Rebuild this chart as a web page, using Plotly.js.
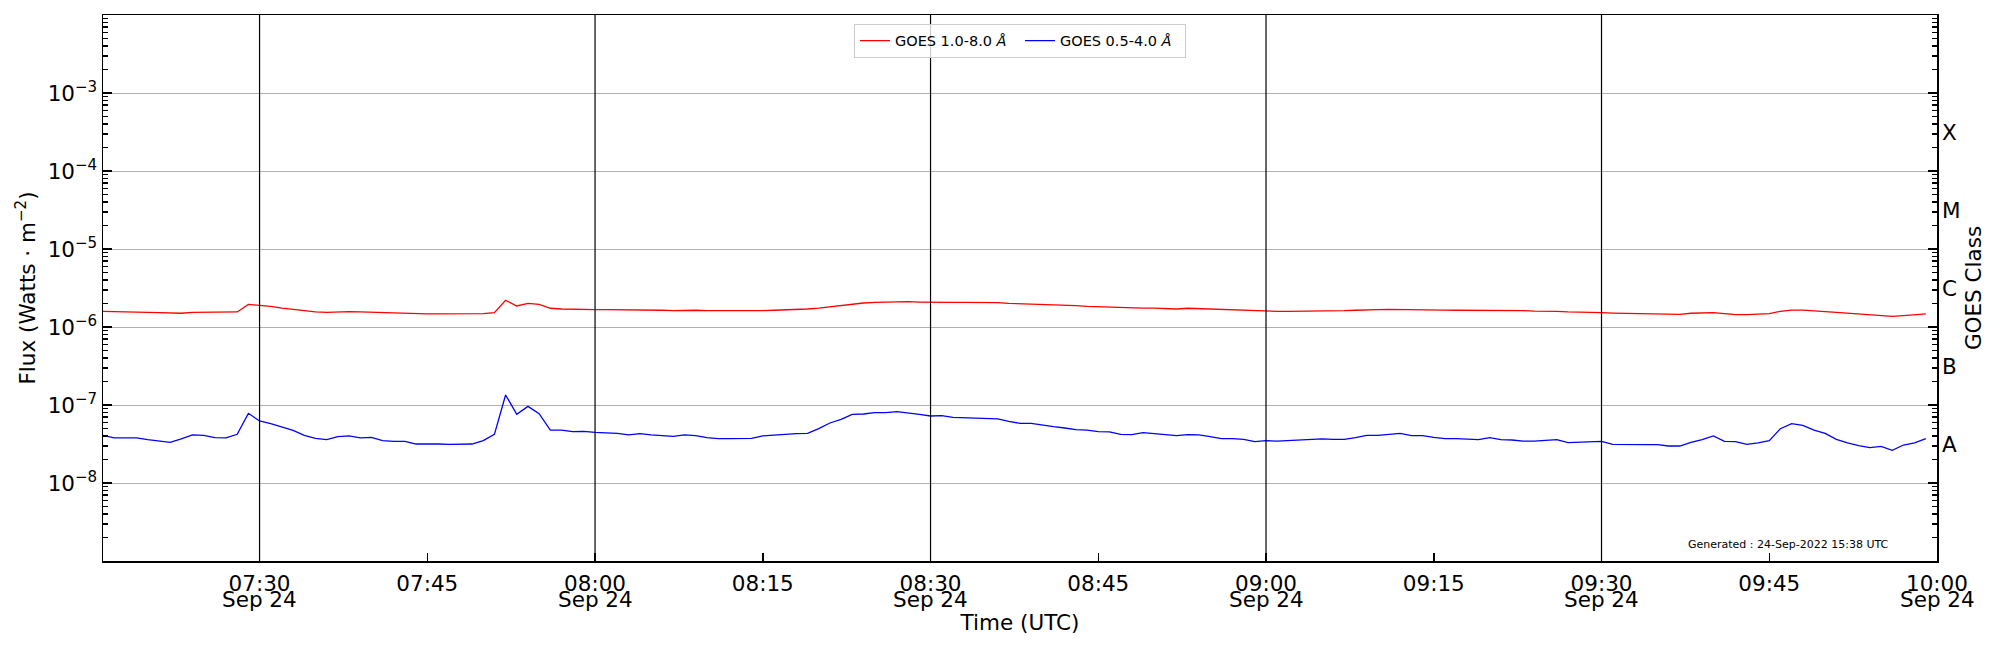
<!DOCTYPE html>
<html>
<head>
<meta charset="utf-8">
<script src="https://cdn.plot.ly/plotly-3.0.1.min.js"></script>
<style>html,body{margin:0;padding:0;background:#fff;}</style>
</head>
<body>
<div id="chart" style="width:2000px;height:650px;"></div>
<script>
// ---- data (1-minute GOES XRS averages, 2022-09-24) ----
const day = "2022-09-24";
const times = [
"07:16","07:17","07:18","07:19","07:20","07:21","07:22","07:23","07:24","07:25","07:26","07:27","07:28","07:29",
"07:30","07:31","07:32","07:33","07:34","07:35","07:36","07:37","07:38","07:39","07:40","07:41","07:42","07:43","07:44",
"07:45","07:46","07:47","07:48","07:49","07:50","07:51","07:52","07:53","07:54","07:55","07:56","07:57","07:58","07:59",
"08:00","08:01","08:02","08:03","08:04","08:05","08:06","08:07","08:08","08:09","08:10","08:11","08:12","08:13","08:14",
"08:15","08:16","08:17","08:18","08:19","08:20","08:21","08:22","08:23","08:24","08:25","08:26","08:27","08:28","08:29",
"08:30","08:31","08:32","08:33","08:34","08:35","08:36","08:37","08:38","08:39","08:40","08:41","08:42","08:43","08:44",
"08:45","08:46","08:47","08:48","08:49","08:50","08:51","08:52","08:53","08:54","08:55","08:56","08:57","08:58","08:59",
"09:00","09:01","09:02","09:03","09:04","09:05","09:06","09:07","09:08","09:09","09:10","09:11","09:12","09:13","09:14",
"09:15","09:16","09:17","09:18","09:19","09:20","09:21","09:22","09:23","09:24","09:25","09:26","09:27","09:28","09:29",
"09:30","09:31","09:32","09:33","09:34","09:35","09:36","09:37","09:38","09:39","09:40","09:41","09:42","09:43","09:44",
"09:45","09:46","09:47","09:48","09:49","09:50","09:51","09:52","09:53","09:54","09:55","09:56","09:57","09:58","09:59"
];
// GOES 1.0-8.0 Å flux, in units of 1e-6 W m^-2
const long18 = [
1.59,1.57,1.56,1.56,1.54,1.53,1.50,1.50,1.54,1.54,1.54,1.54,1.56,1.95,
1.91,1.84,1.75,1.68,1.60,1.56,1.54,1.56,1.57,1.56,1.54,1.53,1.51,1.50,1.48,
1.47,1.47,1.47,1.47,1.47,1.48,1.53,2.20,1.86,2.01,1.95,1.74,1.70,1.68,1.67,
1.67,1.67,1.67,1.67,1.67,1.65,1.64,1.62,1.64,1.64,1.62,1.62,1.60,1.60,1.62,
1.62,1.64,1.65,1.67,1.70,1.75,1.82,1.90,1.99,2.03,2.07,2.09,2.11,2.11,2.09,
2.07,2.09,2.07,2.07,2.07,2.07,2.05,2.01,1.99,1.99,1.97,1.93,1.90,1.88,1.84,
1.82,1.81,1.77,1.74,1.75,1.75,1.74,1.70,1.74,1.72,1.68,1.65,1.64,1.62,1.60,
1.59,1.59,1.59,1.59,1.60,1.60,1.60,1.62,1.64,1.67,1.67,1.68,1.68,1.68,1.67,
1.67,1.65,1.64,1.64,1.64,1.64,1.64,1.62,1.62,1.60,1.60,1.59,1.56,1.56,1.54,
1.53,1.51,1.50,1.48,1.48,1.47,1.45,1.45,1.50,1.51,1.53,1.48,1.44,1.44,1.45,
1.48,1.59,1.65,1.65,1.60,1.57,1.54,1.51,1.47,1.43,1.40,1.37,1.40,1.43,1.47
];
// GOES 0.5-4.0 Å flux, in units of 1e-8 W m^-2
const short054 = [
4.09,3.78,3.78,3.78,3.59,3.45,3.32,3.67,4.13,4.09,3.81,3.78,4.21,7.82,
6.24,5.76,5.22,4.73,4.09,3.74,3.59,3.93,4.01,3.78,3.85,3.49,3.42,3.42,3.16,
3.19,3.16,3.13,3.16,3.16,3.49,4.21,13.44,7.60,9.61,7.74,4.77,4.77,4.55,4.60,
4.46,4.42,4.33,4.13,4.29,4.13,4.09,3.97,4.13,4.05,3.81,3.70,3.70,3.74,3.74,
4.01,4.13,4.25,4.29,4.33,4.97,5.88,6.55,7.60,7.67,7.97,7.97,8.21,7.97,7.60,
7.23,7.30,6.95,6.88,6.81,6.75,6.62,6.17,5.82,5.82,5.49,5.28,5.07,4.82,4.77,
4.55,4.51,4.21,4.17,4.42,4.29,4.17,4.05,4.17,4.13,3.93,3.70,3.70,3.63,3.39,
3.49,3.45,3.52,3.59,3.63,3.67,3.63,3.63,3.81,4.09,4.09,4.21,4.33,4.05,4.05,
3.85,3.70,3.70,3.67,3.59,3.81,3.59,3.56,3.45,3.45,3.52,3.59,3.29,3.32,3.35,
3.42,3.13,3.10,3.10,3.10,3.10,2.98,2.98,3.32,3.59,4.01,3.42,3.39,3.13,3.26,
3.49,4.97,5.76,5.49,4.77,4.33,3.63,3.26,3.01,2.84,2.95,2.62,3.07,3.26,3.70
];
const tickTimes = ["07:30","07:45","08:00","08:15","08:30","08:45","09:00","09:15","09:30","09:45","10:00"];
const dateTimes = ["07:30","08:00","08:30","09:00","09:30","10:00"];
const dateLabel = "Sep 24";
const gridTimes = ["07:30","08:00","08:30","09:00","09:30"];
const fluxTicks = [1e-8,1e-7,1e-6,1e-5,1e-4,1e-3];
const fluxTickText = ["10<sup>−8</sup>","10<sup>−7</sup>","10<sup>−6</sup>","10<sup>−5</sup>","10<sup>−4</sup>","10<sup>−3</sup>"];
const classNames = ["A","B","C","M","X"];
const classLevels = [Math.pow(10,-7.5),Math.pow(10,-6.5),Math.pow(10,-5.5),Math.pow(10,-4.5),Math.pow(10,-3.5)];
const seriesNames = ["GOES 1.0-8.0 <i>Å</i>","GOES 0.5-4.0 <i>Å</i>"];
const generatedText = "Generated : 24-Sep-2022 15:38 UTC";

// ---- build ----
const ts = t => day + " " + t;
const x = times.map(ts);
const minorVals = [];
for (let e = -9; e < -2; e++) for (let m = 2; m <= 9; m++) minorVals.push(m * Math.pow(10, e));

const FONT = "DejaVu Sans, sans-serif";
const FS = 21.5;
const yLong = long18.map(v => v * 1e-6);
const traces = [
  {x: x, y: yLong, type: "scatter", mode: "lines", name: seriesNames[0],
   line: {color: "#ff0000", width: 1.3}},
  {x: x, y: short054.map(v => v * 1e-8), type: "scatter", mode: "lines", name: seriesNames[1],
   line: {color: "#0000ff", width: 1.3}},
  // carrier for the class axis (draws nothing)
  {x: x, y: yLong, yaxis: "y2", mode: "none", showlegend: false, hoverinfo: "skip"}
];

const shapes = gridTimes.map(t => ({type: "line", xref: "x", yref: "paper", x0: ts(t), x1: ts(t), y0: 0, y1: 1,
  line: {color: "#000", width: 1.2}, layer: "above"}));

const annotations = dateTimes.map(t => ({text: dateLabel, xref: "x", yref: "paper", x: ts(t), y: -0.071,
  xanchor: "center", yanchor: "middle", showarrow: false, font: {family: FONT, size: FS, color: "#000"}}));
annotations.push({text: generatedText, xref: "paper", yref: "paper", x: 0.975, y: 0.031,
  xanchor: "right", yanchor: "middle", showarrow: false, font: {family: FONT, size: 11, color: "#000"}});

const layout = {
  width: 2000, height: 650,
  margin: {l: 103, r: 63, t: 15, b: 89},
  paper_bgcolor: "#fff", plot_bgcolor: "#fff",
  font: {family: FONT, size: FS, color: "#000"},
  showlegend: true,
  legend: {orientation: "h", x: 0.5, xanchor: "center", y: 0.984, yanchor: "top",
    bgcolor: "rgba(255,255,255,0.8)", bordercolor: "#cccccc", borderwidth: 1,
    font: {family: FONT, size: 14.5, color: "#000"}, itemwidth: 30, entrywidth: 120},
  xaxis: {
    type: "date", range: [ts("07:16"), ts("10:00")],
    tickmode: "array", tickvals: tickTimes.map(ts), ticktext: tickTimes,
    ticks: "inside", ticklen: 8, tickcolor: "#000", tickwidth: 1.5, ticklabelstandoff: 3,
    showgrid: false, zeroline: false,
    showline: true, linecolor: "#000", linewidth: 1.5, mirror: true,
    tickfont: {family: FONT, size: FS, color: "#000"},
    title: {text: "Time (UTC)", font: {family: FONT, size: FS, color: "#000"}, standoff: 19}
  },
  yaxis: {
    type: "log", range: [-9, -2],
    tickmode: "array", tickvals: fluxTicks, ticktext: fluxTickText,
    ticks: "inside", ticklen: 9, tickcolor: "#000", tickwidth: 1.5,
    minor: {tickmode: "array", tickvals: minorVals, ticks: "inside", ticklen: 5, tickcolor: "#000", tickwidth: 1.5, showgrid: false},
    showgrid: true, gridcolor: "#b0b0b0", gridwidth: 1,
    zeroline: false, showline: true, linecolor: "#000", linewidth: 1.5, mirror: "allticks",
    tickfont: {family: FONT, size: FS, color: "#000"},
    title: {text: "Flux (Watts · m<sup>−2</sup>)", font: {family: FONT, size: FS, color: "#000"}, standoff: 6}
  },
  yaxis2: {
    type: "log", range: [-9, -2], overlaying: "y", side: "right", anchor: "x",
    tickmode: "array", tickvals: classLevels, ticktext: classNames,
    ticks: "", showgrid: false, zeroline: false, showline: false, ticklabelstandoff: 4,
    tickfont: {family: FONT, size: FS, color: "#000"},
    title: {text: "GOES Class", font: {family: FONT, size: FS, color: "#000"}, standoff: 6}
  },
  shapes: shapes,
  annotations: annotations
};

Plotly.newPlot("chart", traces, layout, {displayModeBar: false, staticPlot: true});
</script>
</body>
</html>
